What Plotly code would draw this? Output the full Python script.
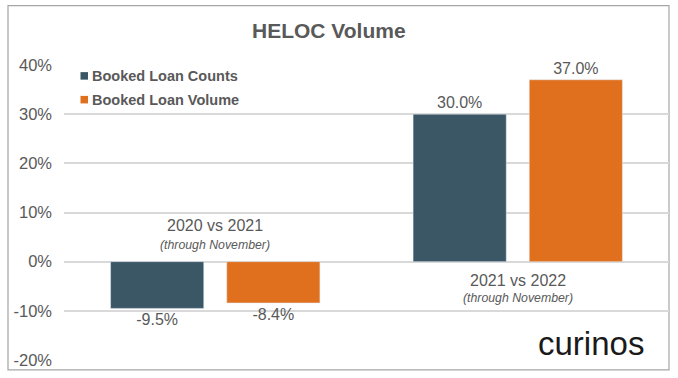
import plotly.graph_objects as go

categories = ["2020 vs 2021", "2021 vs 2022"]
subtitles = ["(through November)", "(through November)"]
counts = [-9.5, 30.0]
volume = [-8.4, 37.0]
series_names = ["Booked Loan Counts", "Booked Loan Volume"]
tick_vals = [-20, -10, 0, 10, 20, 30, 40]
tick_text = ["-20%", "-10%", "0%", "10%", "20%", "30%", "40%"]

DARK = "#3B5665"
ORANGE = "#E0701E"
GRAY = "#595959"
FONT = "Liberation Sans, Arial, sans-serif"

L, R, T, B = 64, 9, 65, 15
W, H = 678, 378
PW, PH = W - L - R, H - T - B


def px(xp):
    return (xp - L) / PW


def py(yp):
    return (H - B - yp) / PH


fig = go.Figure()
for name, vals, col in zip(series_names, [counts, volume], [DARK, ORANGE]):
    fig.add_trace(go.Bar(
        x=categories, y=vals, name=name, marker_color=col, showlegend=False,
        text=[f"{v:.1f}%" for v in vals], textposition="outside",
        textfont=dict(size=16, color=GRAY, family=FONT), cliponaxis=False,
    ))

# Category labels placed near the bars
label_y = [7.3, -3.8]
sub_y = [3.3, -7.4]
for cat, sub, ly, sy in zip(categories, subtitles, label_y, sub_y):
    fig.add_annotation(x=cat, y=ly, text=cat, showarrow=False, xref="x", yref="y",
                       font=dict(size=16, color=GRAY, family=FONT))
    fig.add_annotation(x=cat, y=sy, text=f"<i>{sub}</i>", showarrow=False, xref="x", yref="y",
                       font=dict(size=12.3, color=GRAY, family=FONT))

# Title
fig.add_annotation(x=px(329), y=py(30), xref="paper", yref="paper", text="<b>HELOC Volume</b>",
                   showarrow=False, yanchor="middle",
                   font=dict(size=21, color=GRAY, family=FONT))

# Legend (swatches + text)
for name, col, yl in zip(series_names, [DARK, ORANGE], [76, 100]):
    fig.add_shape(type="rect", xref="paper", yref="paper",
                  x0=px(80.5), x1=px(88), y0=py(yl + 3.8), y1=py(yl - 3.8),
                  line=dict(width=0), fillcolor=col)
    fig.add_annotation(x=px(90), y=py(yl), xref="paper", yref="paper", text=f"<b>{name}</b>",
                       showarrow=False, xanchor="left", yanchor="middle",
                       font=dict(size=14.5, color=GRAY, family=FONT))

# Logo text
fig.add_annotation(x=px(646), y=py(346), xref="paper", yref="paper", text="curinos",
                   showarrow=False, xanchor="right", yanchor="middle",
                   font=dict(size=33, color="#1a1a1a", family=FONT))

# Outer border
fig.add_shape(type="rect", xref="paper", yref="paper",
              x0=px(8), x1=px(669), y0=py(373), y1=py(5),
              line=dict(color="#A6A6A6", width=1.2), fillcolor="rgba(0,0,0,0)", layer="below")

fig.update_layout(
    width=W, height=H,
    margin=dict(l=L, r=R, t=T, b=B),
    paper_bgcolor="white", plot_bgcolor="white",
    barmode="group", bargap=0.232, bargroupgap=0.198,
    showlegend=False,
    xaxis=dict(showticklabels=False, showgrid=False, zeroline=False, showline=False),
    yaxis=dict(range=[-20, 40], tickvals=tick_vals, ticktext=tick_text,
               showgrid=True, gridcolor="#D9D9D9", gridwidth=1.5,
               zeroline=False, showline=False,
               tickfont=dict(size=16.5, color=GRAY, family=FONT), ticks="", ticklabelstandoff=11),
    font=dict(family=FONT),
)

fig.write_html("out.html", config={"displayModeBar": False},
               post_script="document.body.style.margin='0px';document.body.style.overflow='hidden';")
